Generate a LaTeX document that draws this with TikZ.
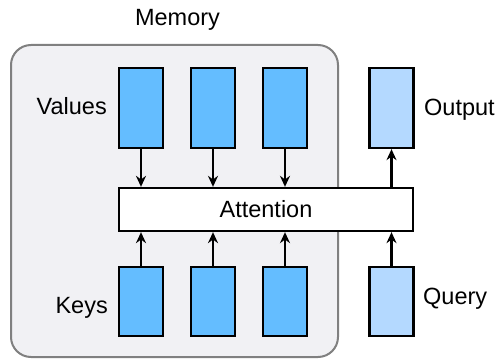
\documentclass[tikz,border=0pt]{standalone}
\usepackage{fontspec}
\setmainfont{Liberation Sans}
\usetikzlibrary{arrows.meta}
\definecolor{vblue}{RGB}{100,189,255}
\definecolor{qblue}{RGB}{180,217,255}
\definecolor{memfill}{RGB}{241,241,244}
\definecolor{memedge}{RGB}{128,128,128}
\begin{document}
\begin{tikzpicture}[x=1pt,y=-1pt,
  vecbox/.style={draw=black,line width=2.3pt,fill=vblue,minimum width=44pt,minimum height=80pt,inner sep=0pt},
  qbox/.style={vecbox,fill=qblue},
  lbl/.style={font=\fontsize{23.5}{28}\selectfont,inner sep=0pt},
  arr/.style={-{Stealth[length=11pt,width=10pt]},line width=2.3pt}]
\useasboundingbox (0,0) rectangle (498,363);
\node[draw=memedge,line width=2pt,fill=memfill,rounded corners=20pt,minimum width=327pt,minimum height=312pt,inner sep=0pt] (mem) at (174.5,201) {};
\node[vecbox] (v1) at (141,108) {};
\node[vecbox] (v2) at (213,108) {};
\node[vecbox] (v3) at (285,108) {};
\node[qbox] (out) at (391.5,108) {};
\node[draw=black,line width=2.3pt,fill=white,minimum width=294pt,minimum height=43pt,inner sep=0pt] (att) at (266,209.5) {};
\node[lbl] (atttxt) at (266,209.5) {Attention};
\node[vecbox,minimum height=69pt] (k1) at (141,301.5) {};
\node[vecbox,minimum height=69pt] (k2) at (213,301.5) {};
\node[vecbox,minimum height=69pt] (k3) at (285,301.5) {};
\node[qbox,minimum height=69pt] (q) at (391.5,301.5) {};
\node[lbl,anchor=base] (memlbl) at (177.5,26) {Memory};
\node[lbl,anchor=base east] (vlbl) at (107,115) {Values};
\node[lbl,anchor=base east] (klbl) at (108,314) {Keys};
\node[lbl,anchor=base west] (olbl) at (424,116) {Output};
\node[lbl,anchor=base west] (qlbl) at (423,305) {Query};
\foreach \i in {1,2,3}{
  \draw[arr] (v\i.south) -- (v\i.south |- att.north);
  \draw[arr] (k\i.north) -- (k\i.north |- att.south);
}
\draw[arr] (out.south |- att.north) -- (out.south);
\draw[arr] (q.north) -- (q.north |- att.south);
\end{tikzpicture}
\end{document}
